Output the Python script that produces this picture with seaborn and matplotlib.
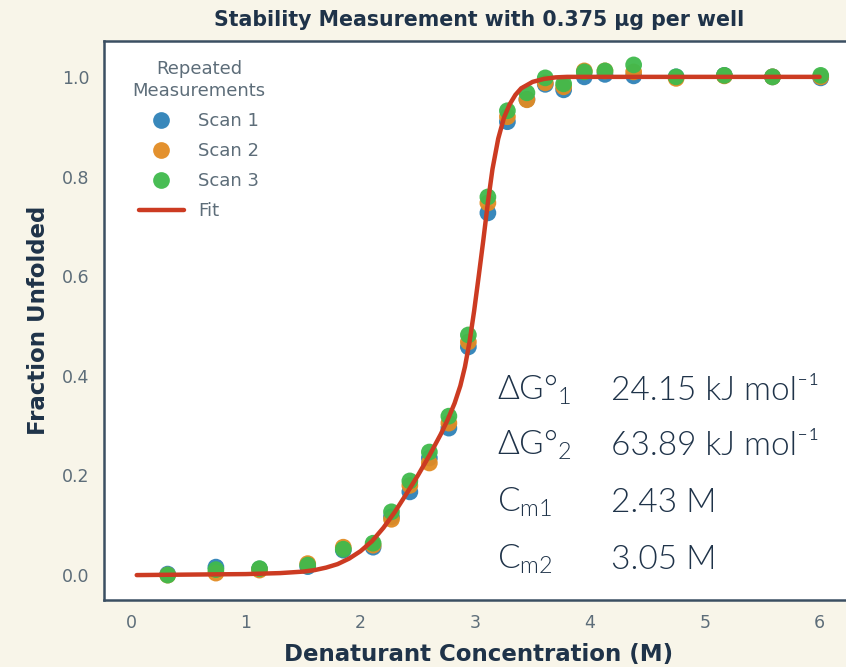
import matplotlib
matplotlib.use("Agg")
import matplotlib.pyplot as plt
import seaborn as sns
import pandas as pd

# Denaturant concentrations (M) of each well
conc = [0.32, 0.74, 1.12, 1.54, 1.85, 2.11, 2.27, 2.43, 2.60, 2.77, 2.94, 3.11,
        3.28, 3.45, 3.61, 3.77, 3.95, 4.13, 4.38, 4.75, 5.17, 5.59, 6.01]

# Fraction unfolded for the three repeated scans
scan1 = [0.002, 0.016, 0.012, 0.017, 0.050, 0.056, 0.117, 0.167, 0.235, 0.295, 0.458, 0.727,
         0.910, 0.955, 0.985, 0.974, 1.000, 1.005, 1.002, 1.000, 1.003, 1.000, 0.998]
scan2 = [0.000, 0.004, 0.010, 0.023, 0.056, 0.060, 0.112, 0.180, 0.225, 0.305, 0.468, 0.747,
         0.920, 0.954, 0.988, 0.980, 1.012, 1.012, 1.010, 0.997, 1.002, 1.000, 1.000]
scan3 = [0.000, 0.011, 0.013, 0.020, 0.052, 0.064, 0.127, 0.189, 0.247, 0.319, 0.482, 0.759,
         0.932, 0.968, 0.998, 0.986, 1.010, 1.012, 1.024, 1.000, 1.003, 1.000, 1.003]
scan_names = ["Scan 1", "Scan 2", "Scan 3"]

# Fitted unfolding curve
fit_conc = [0.05, 0.50, 1.00, 1.30, 1.50, 1.60, 1.70, 1.80, 1.90, 2.00, 2.10, 2.20, 2.30,
            2.40, 2.50, 2.60, 2.70, 2.76, 2.82, 2.87, 2.91, 2.95, 2.99, 3.03, 3.07, 3.11,
            3.15, 3.20, 3.25, 3.30, 3.35, 3.40, 3.50, 3.60, 3.70, 3.80, 4.00, 5.00, 6.00]
fit_frac = [0.000, 0.001, 0.002, 0.004, 0.007, 0.010, 0.015, 0.022, 0.033, 0.048, 0.068,
            0.095, 0.127, 0.163, 0.200, 0.240, 0.283, 0.312, 0.345, 0.380, 0.418, 0.468,
            0.530, 0.600, 0.672, 0.748, 0.815, 0.876, 0.918, 0.945, 0.964, 0.977, 0.990,
            0.996, 0.999, 1.000, 1.000, 1.000, 1.000]

# Fit parameters
param_names = ["ΔG°$_{\\mathregular{1}}$", "ΔG°$_{\\mathregular{2}}$",
               "C$_{\\mathregular{m1}}$", "C$_{\\mathregular{m2}}$"]
param_values = ["24.15 kJ mol⁻¹", "63.89 kJ mol⁻¹", "2.43 M", "3.05 M"]

x_ticks = [0, 1, 2, 3, 4, 5, 6]
y_ticks = [0.0, 0.2, 0.4, 0.6, 0.8, 1.0]

scatter_df = pd.DataFrame({
    "conc": conc * 3,
    "frac": scan1 + scan2 + scan3,
    "Scan": sum([[n] * len(conc) for n in scan_names], []),
})
fit_df = pd.DataFrame({"conc": fit_conc, "frac": fit_frac})

BG = "#f8f5e9"
NAVY = "#1f3349"
GREY = "#5d6d79"
SPINE = "#3b4f62"
palette = {"Scan 1": "#2e82b8", "Scan 2": "#e28b22", "Scan 3": "#3fba4c"}

sns.set_theme(style="white")
plt.rcParams["font.family"] = ["DejaVu Sans"]
plt.rcParams["mathtext.fontset"] = "custom"
plt.rcParams["mathtext.rm"] = "Lato:weight=300"
plt.rcParams["mathtext.it"] = "Lato:weight=300"

fig = plt.figure(figsize=(8.46, 6.67), dpi=100, facecolor=BG)
ax = fig.add_axes([104 / 846, 67 / 667, 750 / 846, 559 / 667])
ax.set_facecolor("white")

sns.scatterplot(data=scatter_df, x="conc", y="frac", hue="Scan", palette=palette,
                s=145, edgecolor="none", alpha=0.95, ax=ax, zorder=2)
sns.lineplot(data=fit_df, x="conc", y="frac", color="#cc3b22", linewidth=3.2,
             label="Fit", ax=ax, zorder=3)

ax.set_xlim(-0.235, 6.3)
ax.set_ylim(-0.05, 1.072)
ax.set_xticks(x_ticks)
ax.set_yticks(y_ticks)
ax.set_xticklabels([str(t) for t in x_ticks])
ax.set_yticklabels([f"{t:.1f}" for t in y_ticks])
ax.tick_params(axis="both", direction="out", length=5.3, width=1.5, color=SPINE,
               labelcolor=GREY, labelsize=12.5, pad=5)
for side in ["left", "bottom", "top", "right"]:
    ax.spines[side].set_color(SPINE)
    ax.spines[side].set_linewidth(1.8)

ax.set_xlabel("Denaturant Concentration (M)", fontsize=16.5, fontweight="bold",
              color=NAVY, labelpad=8)
ax.set_ylabel("Fraction Unfolded", fontsize=16.5, fontweight="bold", color=NAVY, labelpad=9)
ax.set_title("Stability Measurement with 0.375 µg per well", fontsize=14.8,
             fontweight="bold", color=NAVY, pad=11)

handles, labels = ax.get_legend_handles_labels()
leg = ax.legend(handles, labels, title="Repeated\nMeasurements", loc="upper left",
                bbox_to_anchor=(0.016, 0.995), frameon=False, fontsize=13, title_fontsize=13,
                handlelength=2.5, labelspacing=0.66, handletextpad=0.8, markerscale=1.0)
leg.get_title().set_color(GREY)
leg.get_title().set_multialignment("center")
leg.get_title().set_linespacing(1.3)
for t in leg.get_texts():
    t.set_color(GREY)

row_y = [0.351, 0.241, 0.127, 0.012]
for name, val, yy in zip(param_names, param_values, row_y):
    ax.text(3.19, yy, name, fontsize=24, color=NAVY, family=["Lato", "DejaVu Sans"],
            fontweight=300, va="baseline")
    ax.text(4.18, yy, val, fontsize=24, color=NAVY, family=["Lato", "DejaVu Sans"],
            fontweight=300, va="baseline")

fig.savefig("out.png", dpi=100, facecolor=BG)
